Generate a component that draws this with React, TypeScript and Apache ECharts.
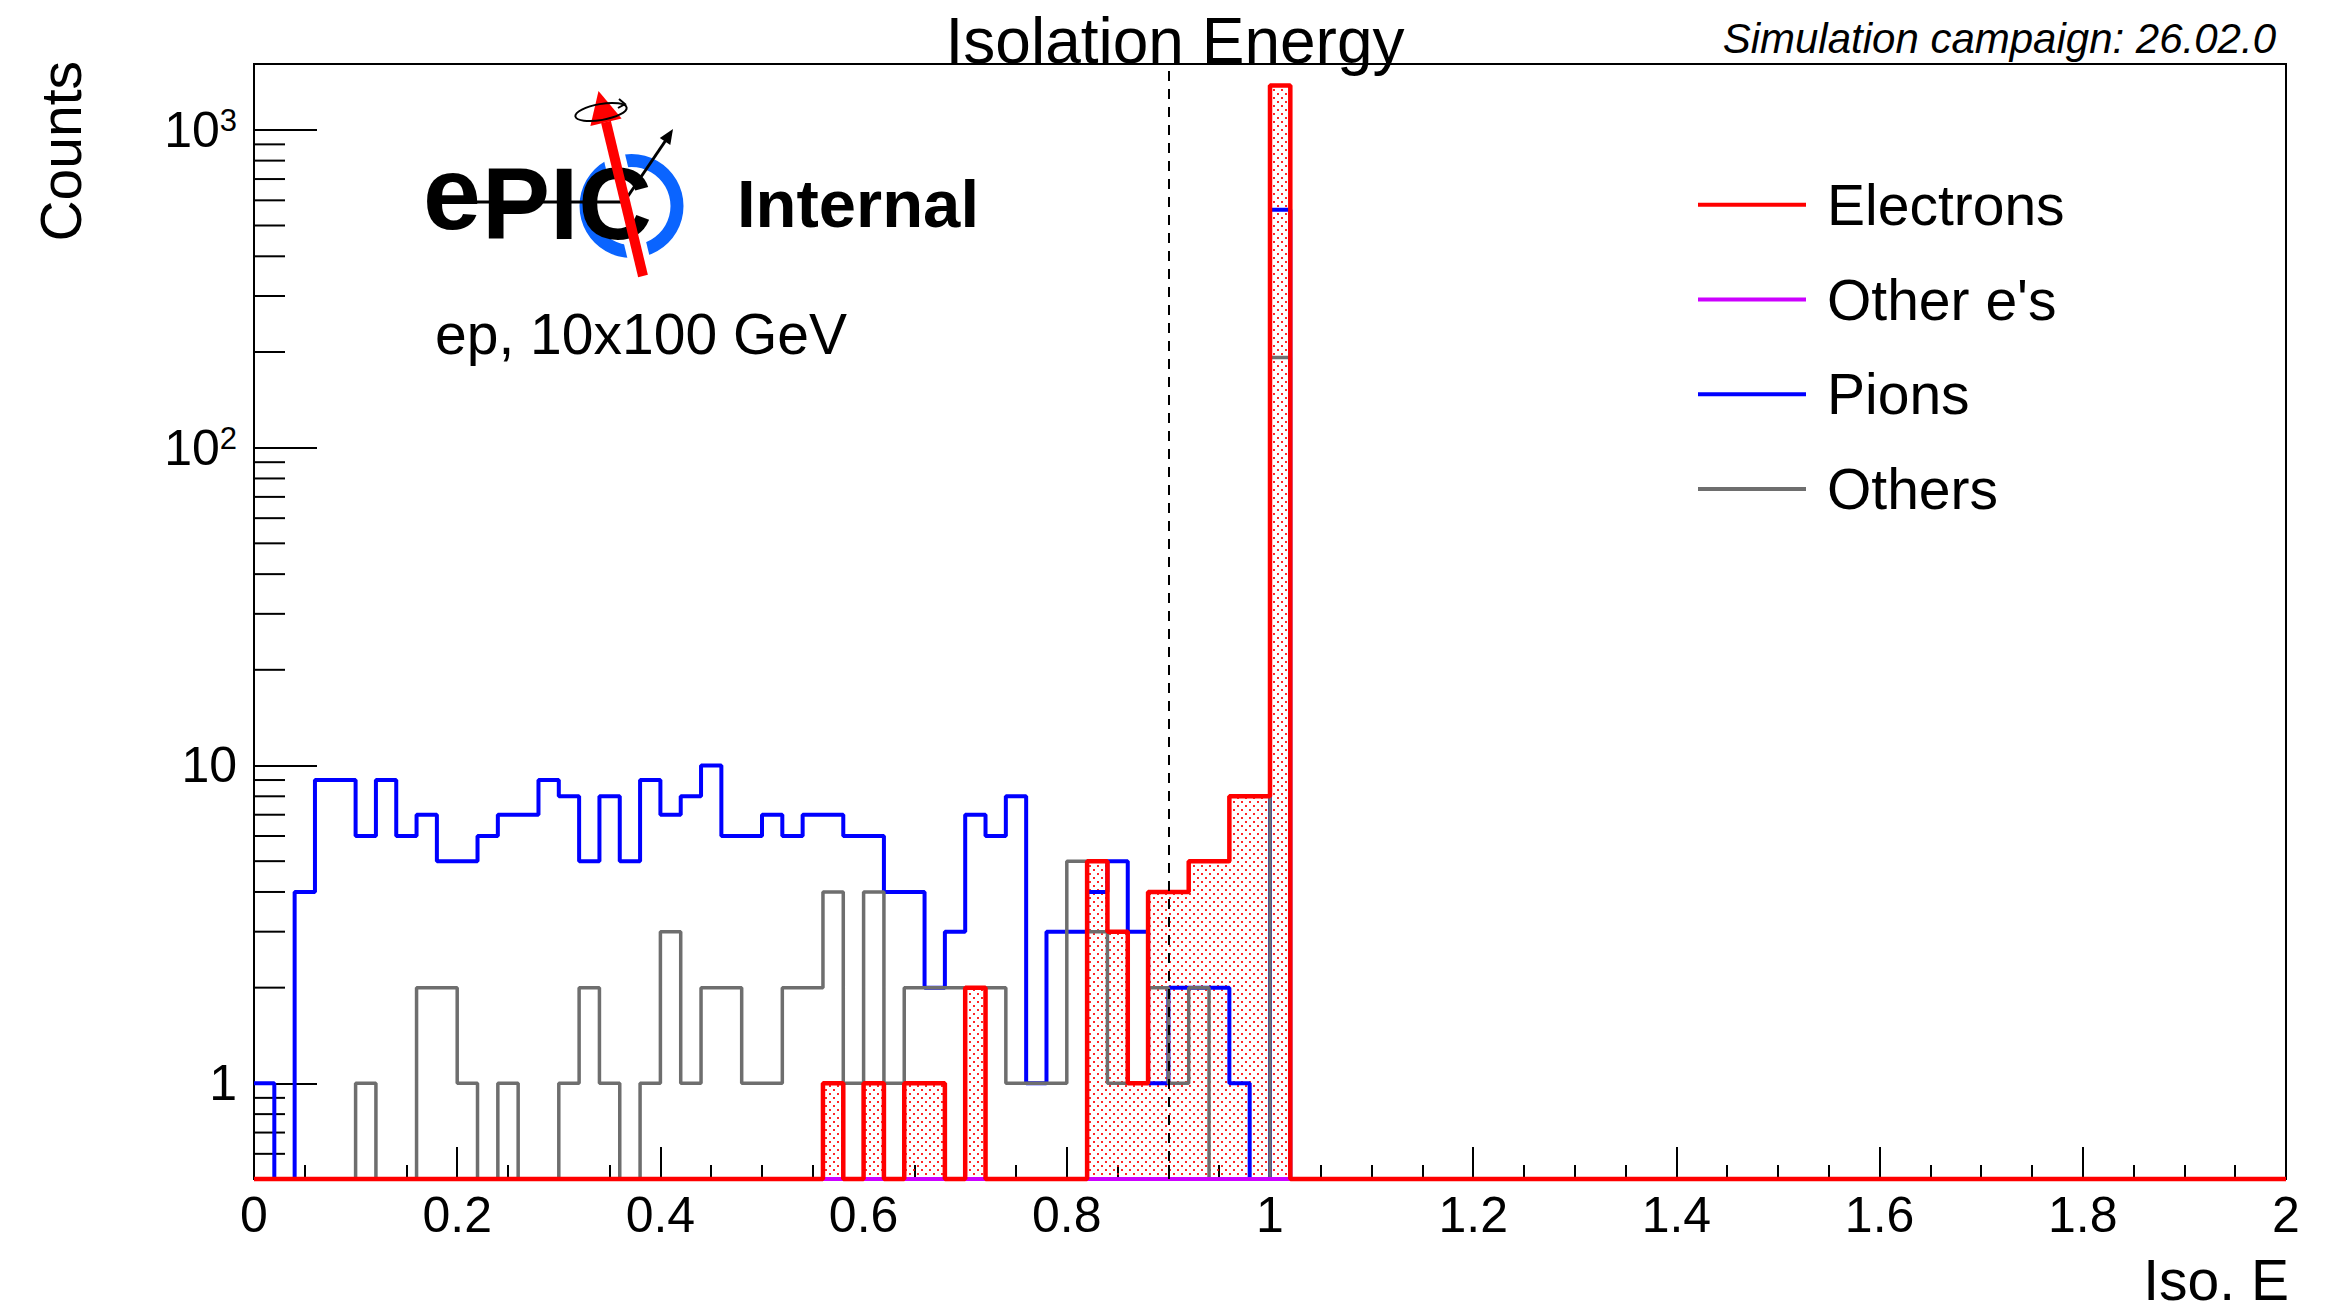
import React, { useEffect, useRef } from 'react';
import * as echarts from 'echarts';

const W = 2346;
const H = 1313;
const FONT = '"Liberation Sans", Arial, Helvetica, sans-serif';

// Histogram binning: 100 bins of width 0.02 on [0, 2]
const BIN_WIDTH = 0.02;
const N_BINS = 100;
const X_MIN = 0;
const X_MAX = 2;
const Y_MIN = 0.5;
const Y_MAX = 1611;
const CUT_X = 0.9;

// Bin contents for bins 0..50 (bins 51..99 are empty)
const pions = [
  1, 0, 4, 9, 9, 6, 9, 6, 7, 5,
  5, 6, 7, 7, 9, 8, 5, 8, 5, 9,
  7, 8, 10, 6, 6, 7, 6, 7, 7, 6,
  6, 4, 4, 2, 3, 7, 6, 8, 1, 3,
  3, 4, 5, 3, 1, 2, 2, 2, 1, 0,
  560,
];
const others = [
  0, 0, 0, 0, 0, 1, 0, 0, 2, 2,
  1, 0, 1, 0, 0, 1, 2, 1, 0, 1,
  3, 1, 2, 2, 1, 1, 2, 2, 4, 1,
  4, 1, 2, 2, 2, 2, 2, 1, 1, 1,
  5, 3, 1, 1, 2, 1, 2, 0, 0, 0,
  192,
];
const otherEs = [
  0, 0, 0, 0, 0, 0, 0, 0, 0, 0,
  0, 0, 0, 0, 0, 0, 0, 0, 0, 0,
  0, 0, 0, 0, 0, 0, 0, 0, 0, 0,
  0, 0, 0, 0, 0, 0, 0, 0, 0, 0,
  0, 0, 0, 0, 0, 0, 0, 0, 0, 0,
  0,
];
const electrons = [
  0, 0, 0, 0, 0, 0, 0, 0, 0, 0,
  0, 0, 0, 0, 0, 0, 0, 0, 0, 0,
  0, 0, 0, 0, 0, 0, 0, 0, 1, 0,
  1, 0, 1, 1, 0, 2, 0, 0, 0, 0,
  0, 5, 3, 1, 4, 4, 5, 5, 8, 8,
  1378,
];

const legendNames = ['Electrons', "Other e's", 'Pions', 'Others'];
const seriesColors: Record<string, string> = {
  Electrons: '#ff0000',
  "Other e's": '#cc00ff',
  Pions: '#0000ff',
  Others: '#6e6e6e',
};

const yMinorTicks = [
  0.6, 0.7, 0.8, 0.9,
  2, 3, 4, 5, 6, 7, 8, 9,
  20, 30, 40, 50, 60, 70, 80, 90,
  200, 300, 400, 500, 600, 700, 800, 900,
];

function fullBins(vals: number[]): number[] {
  const out = vals.slice();
  while (out.length < N_BINS) out.push(0);
  return out;
}

// Step points at bin edges; empty bins are drawn at the frame bottom (as ROOT does on log scale)
function stepPoints(vals: number[]): number[][] {
  const b = fullBins(vals);
  const clamp = (v: number) => (v > Y_MIN ? v : Y_MIN);
  const pts = b.map((v, i) => [X_MIN + i * BIN_WIDTH, clamp(v)]);
  pts.push([X_MAX, clamp(b[b.length - 1])]);
  return pts;
}

function makeDotPattern(): string {
  const c = document.createElement('canvas');
  c.width = 8;
  c.height = 8;
  const ctx = c.getContext('2d');
  if (ctx) {
    ctx.fillStyle = 'rgba(255,0,0,0.85)';
    ctx.fillRect(1, 1, 2, 2);
    ctx.fillRect(5, 5, 2, 2);
  }
  return c.toDataURL();
}

const mid = (baseline: number, fs: number) => baseline - 0.3465 * fs;

function buildOption(patternUrl: string) {
  const histSeries = (name: string, vals: number[], extra: any = {}) => ({
    type: 'line',
    name,
    data: stepPoints(vals),
    step: 'end',
    symbol: 'none',
    showSymbol: false,
    clip: false,
    silent: true,
    lineStyle: { color: seriesColors[name], width: 4 },
    itemStyle: { color: seriesColors[name] },
    ...extra,
  });

  const logo: any[] = [
    { type: 'ring', shape: { cx: 631.5, cy: 206, r: 52, r0: 39 }, style: { fill: '#0a64ff' }, z: 100 },
    { type: 'line', shape: { x1: 643, y1: 276, x2: 606, y2: 122 }, style: { stroke: '#ffffff', lineWidth: 22 }, z: 101 },
    {
      type: 'text', x: 423, y: mid(229, 104), z: 102,
      style: { text: 'e', fontSize: 104, fontWeight: 'bold', fontFamily: FONT, fill: '#000', align: 'left', verticalAlign: 'middle' },
    },
    {
      type: 'text', x: 482, y: mid(239.5, 102), z: 102,
      style: { text: 'PIC', fontSize: 102, fontWeight: 'bold', fontFamily: FONT, fill: '#000', align: 'left', verticalAlign: 'middle' },
    },
    { type: 'line', shape: { x1: 470, y1: 202, x2: 624, y2: 202 }, style: { stroke: '#000', lineWidth: 3 }, z: 103 },
    { type: 'line', shape: { x1: 624, y1: 202, x2: 666, y2: 140 }, style: { stroke: '#000', lineWidth: 3 }, z: 103 },
    { type: 'polygon', shape: { points: [[673, 129], [670.3, 145], [659.8, 138]] }, style: { fill: '#000' }, z: 103 },
    { type: 'line', shape: { x1: 643, y1: 276, x2: 606, y2: 122 }, style: { stroke: '#ff0000', lineWidth: 10 }, z: 104 },
    { type: 'polygon', shape: { points: [[598.5, 91], [621.6, 118.4], [590.4, 125.9]] }, style: { fill: '#ff0000' }, z: 104 },
    {
      type: 'ellipse', x: 601, y: 112, rotation: 0.17, shape: { cx: 0, cy: 0, rx: 26, ry: 8 },
      style: { fill: 'none', stroke: '#000', lineWidth: 2 }, z: 105,
    },
    { type: 'polyline', shape: { points: [[619, 99], [625, 104], [618, 108]] }, style: { stroke: '#000', lineWidth: 2, fill: 'none' }, z: 105 },
  ];

  const texts: any[] = [
    {
      type: 'text', x: 1175, y: mid(63.3, 64), z: 110,
      style: { text: 'Isolation Energy', fontSize: 64, fontFamily: FONT, fill: '#000', align: 'center', verticalAlign: 'middle' },
    },
    {
      type: 'text', x: 2276, y: mid(53, 42), z: 110,
      style: { text: 'Simulation campaign: 26.02.0', fontSize: 42, fontStyle: 'italic', fontFamily: FONT, fill: '#000', align: 'right', verticalAlign: 'middle' },
    },
    {
      type: 'text', x: 737, y: mid(226.7, 67), z: 110,
      style: { text: 'Internal', fontSize: 67, fontWeight: 'bold', fontFamily: FONT, fill: '#000', align: 'left', verticalAlign: 'middle' },
    },
    {
      type: 'text', x: 435, y: mid(354, 57), z: 110,
      style: { text: 'ep, 10x100 GeV', fontSize: 57, fontFamily: FONT, fill: '#000', align: 'left', verticalAlign: 'middle' },
    },
    {
      type: 'text', x: 61, y: 61, rotation: Math.PI / 2, z: 110,
      style: { text: 'Counts', fontSize: 57, fontFamily: FONT, fill: '#000', align: 'right', verticalAlign: 'middle' },
    },
    {
      type: 'text', x: 2289, y: 1280, z: 110,
      style: { text: 'Iso. E', fontSize: 57, lineHeight: 44, fontFamily: FONT, fill: '#000', align: 'right', verticalAlign: 'middle' },
    },
  ];

  return {
    animation: false,
    backgroundColor: '#ffffff',
    textStyle: { fontFamily: FONT },
    grid: {
      left: 254, right: W - 2286, top: 64, bottom: H - 1179,
      show: true, borderColor: '#000', borderWidth: 2, backgroundColor: 'transparent',
    },
    legend: {
      orient: 'vertical',
      left: 1698,
      top: 174.8,
      padding: 0,
      itemWidth: 108,
      itemHeight: 4,
      itemGap: 34.7,
      icon: 'rect',
      selectedMode: false,
      data: legendNames.map((n) => ({ name: n, itemStyle: { color: seriesColors[n] } })),
      textStyle: { fontSize: 57, fontFamily: FONT, color: '#000', lineHeight: 60, padding: [0, 0, 0, 16] },
    },
    xAxis: {
      type: 'value',
      min: X_MIN,
      max: X_MAX,
      interval: 0.2,
      axisLine: { show: true, onZero: false, lineStyle: { color: '#000', width: 2 } },
      axisTick: { show: true, inside: true, length: 32, lineStyle: { color: '#000', width: 2 } },
      minorTick: { show: true, splitNumber: 4, length: 14, lineStyle: { color: '#000', width: 2 } },
      splitLine: { show: false },
      minorSplitLine: { show: false },
      axisLabel: { fontSize: 50, fontFamily: FONT, color: '#000', margin: 11 },
    },
    yAxis: {
      type: 'log',
      logBase: 10,
      min: Y_MIN,
      max: Y_MAX,
      axisLine: { show: true, lineStyle: { color: '#000', width: 2 } },
      axisTick: { show: true, inside: true, length: 63, lineStyle: { color: '#000', width: 2 } },
      minorTick: { show: false },
      splitLine: { show: false },
      axisLabel: {
        fontSize: 50,
        fontFamily: FONT,
        color: '#000',
        margin: 17,
        showMinLabel: false,
        showMaxLabel: false,
        formatter: (v: number) => {
          const lg = Math.log10(v);
          const e = Math.round(lg);
          if (Math.abs(lg - e) > 1e-6) return '';
          if (e === 0) return '1';
          if (e === 1) return '10';
          return `{b|10}{s|${e}}`;
        },
        rich: {
          b: { fontSize: 50, fontFamily: FONT, color: '#000', lineHeight: 50, padding: [10, 0, 0, 0], verticalAlign: 'bottom' },
          s: { fontSize: 31, fontFamily: FONT, color: '#000', lineHeight: 31, verticalAlign: 'top' },
        },
      },
    },
    series: [
      {
        type: 'custom',
        name: 'yMinorTicks',
        silent: true,
        clip: false,
        z: 3,
        data: yMinorTicks.map((v) => [X_MIN, v]),
        renderItem: (_params: any, api: any) => {
          const p = api.coord([api.value(0), api.value(1)]);
          return {
            type: 'line',
            shape: { x1: p[0], y1: p[1], x2: p[0] + 31, y2: p[1] },
            style: { stroke: '#000', lineWidth: 2 },
          };
        },
      },
      histSeries('Pions', pions),
      histSeries('Others', others, { lineStyle: { color: seriesColors.Others, width: 3.5 } }),
      histSeries("Other e's", otherEs),
      histSeries('Electrons', electrons, {
        lineStyle: { color: seriesColors.Electrons, width: 4.5 },
        areaStyle: {
          origin: 'start',
          opacity: 1,
          color: { image: patternUrl, repeat: 'repeat', imageWidth: 8, imageHeight: 8 },
        },
        markLine: {
          silent: true,
          symbol: 'none',
          label: { show: false },
          lineStyle: { color: '#000', width: 2, type: [10, 8] },
          data: [{ xAxis: CUT_X }],
        },
      }),
    ],
    graphic: [...logo, ...texts],
  };
}

export default function App() {
  const ref = useRef<HTMLDivElement>(null);
  useEffect(() => {
    document.body.style.margin = '0';
    if (!ref.current) return;
    const chart = echarts.init(ref.current, undefined, { renderer: 'svg', width: W, height: H });
    chart.setOption(buildOption(makeDotPattern()) as any);
    return () => {
      chart.dispose();
    };
  }, []);
  return (
    <div
      ref={ref}
      style={{ position: 'fixed', left: 0, top: 0, width: W, height: H, background: '#ffffff' }}
    />
  );
}
